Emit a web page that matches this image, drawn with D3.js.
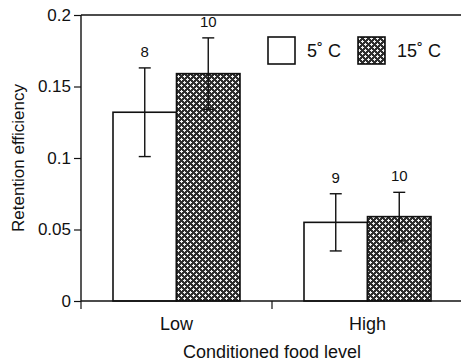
<!DOCTYPE html>
<html>
<head>
<meta charset="utf-8">
<script src="https://cdn.jsdelivr.net/npm/d3@7"></script>
<style>
  body { margin: 0; background: #fff; }
  text { font-family: "Liberation Sans", Arial, sans-serif; fill: #111; }
</style>
</head>
<body>
<div id="chart"></div>
<script>
// data
var levels = ["Low", "High"];
var temps = ["5˚ C", "15˚ C"];
var means5 = [0.132, 0.055];
var means15 = [0.159, 0.059];
var err5 = [0.031, 0.020];
var err15 = [0.025, 0.017];
var n5 = ["8", "9"];
var n15 = ["10", "10"];
var yTicks = [0, 0.05, 0.1, 0.15, 0.2];
var yTickLabels = ["0", "0.05", "0.1", "0.15", "0.2"];

var width = 461, height = 361;
var margin = {top: 15, right: -2, bottom: 60, left: 81};
var w = width - margin.left - margin.right,
    h = height - margin.top - margin.bottom;

var svg = d3.select("#chart").append("svg")
    .attr("width", width)
    .attr("height", height);

// crosshatch fill
var defs = svg.append("defs");
var pat = defs.append("pattern")
    .attr("id", "hatch")
    .attr("patternUnits", "userSpaceOnUse")
    .attr("width", 6).attr("height", 6);
pat.append("rect").attr("width", 6).attr("height", 6).attr("fill", "#2e2e2e");
[[1.5, 1.5], [4.5, 4.5]].forEach(function(c) {
  pat.append("rect").attr("x", c[0] - 1.5).attr("y", c[1] - 0.5).attr("width", 3).attr("height", 1).attr("fill", "#f2f2f2");
  pat.append("rect").attr("x", c[0] - 0.5).attr("y", c[1] - 1.5).attr("width", 1).attr("height", 3).attr("fill", "#f2f2f2");
});

var g = svg.append("g")
    .attr("transform", "translate(" + margin.left + "," + margin.top + ")");

var x = d3.scaleBand().domain(levels).range([0, w]);
var xSub = d3.scaleBand().domain(temps).range([0, 127])
var y = d3.scaleLinear().domain([0, 0.2]).range([h, 0]);

var data = [];
levels.forEach(function(l, i) {
  data.push({level: l, temp: temps[0], mean: means5[i], err: err5[i], n: n5[i]});
  data.push({level: l, temp: temps[1], mean: means15[i], err: err15[i], n: n15[i]});
});

function bx(d) { return x(d.level) + x.bandwidth() / 2 - 63.5 + xSub(d.temp); }

// bars
g.selectAll("rect.bar").data(data).enter().append("rect")
    .attr("class", "bar")
    .attr("x", bx)
    .attr("y", function(d) { return y(d.mean); })
    .attr("width", xSub.bandwidth())
    .attr("height", function(d) { return h - y(d.mean); })
    .attr("fill", function(d) { return d.temp == temps[0] ? "#fff" : "url(#hatch)"; })
    .attr("stroke", "#111")
    .attr("stroke-width", 1.6);

// error bars
var eb = g.selectAll("g.err").data(data).enter().append("g")
    .attr("class", "err")
    .attr("transform", function(d) { return "translate(" + (bx(d) + xSub.bandwidth() / 2) + ",0)"; });
eb.append("line")
    .attr("y1", function(d) { return y(d.mean + d.err); })
    .attr("y2", function(d) { return y(d.mean - d.err); })
    .attr("stroke", "#111").attr("stroke-width", 1.4);
eb.append("line")
    .attr("x1", -6).attr("x2", 6)
    .attr("y1", function(d) { return y(d.mean + d.err); })
    .attr("y2", function(d) { return y(d.mean + d.err); })
    .attr("stroke", "#111").attr("stroke-width", 1.4);
eb.append("line")
    .attr("x1", -6).attr("x2", 6)
    .attr("y1", function(d) { return y(d.mean - d.err); })
    .attr("y2", function(d) { return y(d.mean - d.err); })
    .attr("stroke", "#111").attr("stroke-width", 1.4);
eb.append("text")
    .attr("y", function(d) { return y(d.mean + d.err) - 11; })
    .attr("text-anchor", "middle")
    .style("font-size", "15px")
    .text(function(d) { return d.n; });

// axes
var yAxis = d3.axisLeft(y).tickValues(yTicks)
    .tickFormat(function(d, i) { return yTickLabels[i]; })
    .tickSize(7).tickPadding(3);
var ya = g.append("g").call(yAxis);
ya.select(".domain").attr("d", "M0," + h + "V0").attr("stroke", "#111").attr("stroke-width", 1.4);
ya.selectAll(".tick line").attr("stroke", "#111").attr("stroke-width", 1.2);
ya.selectAll(".tick text").style("font-size", "17px").attr("fill", "#111");

// top frame line
g.append("line").attr("x1", 0).attr("x2", w).attr("y1", 0).attr("y2", 0)
    .attr("stroke", "#111").attr("stroke-width", 1.4);

var xa = g.append("g").attr("transform", "translate(0," + h + ")")
    .call(d3.axisBottom(x).tickSize(0).tickPadding(16));
xa.select(".domain").attr("d", "M0,0H" + w).attr("stroke", "#111").attr("stroke-width", 1.4);
xa.selectAll(".tick text").style("font-size", "18px").attr("fill", "#111");
// ticks at group boundaries
xa.selectAll("line.bound").data([0, x.step()]).enter().append("line")
    .attr("class", "bound")
    .attr("x1", function(d) { return d; }).attr("x2", function(d) { return d; })
    .attr("y1", 0).attr("y2", 8)
    .attr("stroke", "#111").attr("stroke-width", 1.2);

// axis titles
svg.append("text")
    .attr("transform", "translate(24," + (margin.top + h / 2) + ") rotate(-90)")
    .attr("text-anchor", "middle")
    .style("font-size", "17px")
    .text("Retention efficiency");
svg.append("text")
    .attr("x", margin.left + x.step())
    .attr("y", 358)
    .attr("text-anchor", "middle")
    .style("font-size", "18px")
    .text("Conditioned food level");

// legend
var legend = svg.append("g").attr("transform", "translate(268,37)");
var li = legend.selectAll("g").data(temps).enter().append("g")
    .attr("transform", function(d, i) { return "translate(" + (i * 90) + ",0)"; });
li.append("rect")
    .attr("width", 27).attr("height", 27)
    .attr("fill", function(d, i) { return i == 0 ? "#fff" : "url(#hatch)"; })
    .attr("stroke", "#111").attr("stroke-width", 1.6);
li.append("text")
    .attr("x", 39)
    .attr("y", 20)
    .style("font-size", "18px")
    .text(function(d) { return d; });
</script>
</body>
</html>
